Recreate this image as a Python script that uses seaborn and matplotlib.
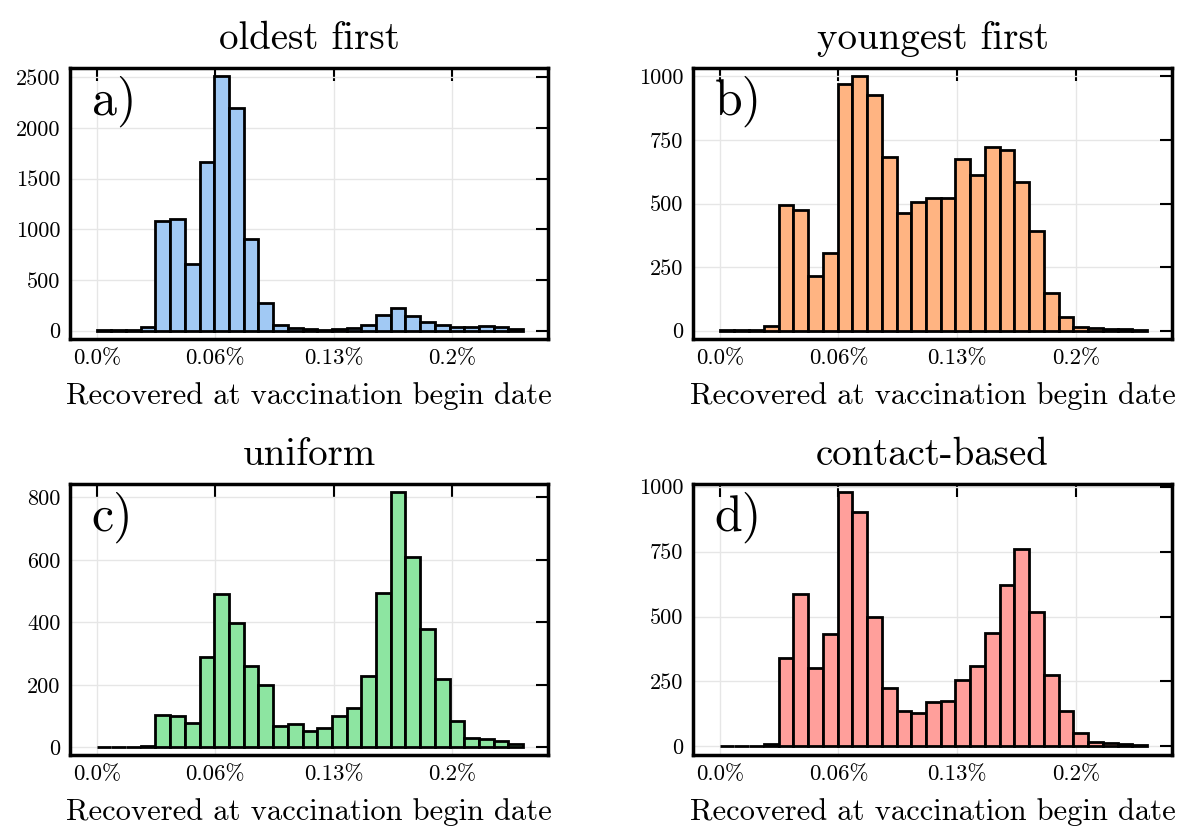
import numpy as np
import pandas as pd
import matplotlib
matplotlib.use("Agg")
import matplotlib.pyplot as plt
import seaborn as sns

# counts per bin (29 bins from 0% to ~0.24%)
oldest_first = [5, 5, 8, 40, 1085, 1105, 658, 1661, 2516, 2194, 901, 273, 56, 23,
                13, 10, 20, 23, 56, 155, 220, 141, 89, 56, 40, 40, 43, 36, 20]
youngest_first = [3, 3, 3, 17, 493, 476, 216, 307, 972, 1001, 927, 684, 463, 505,
                  520, 523, 676, 612, 723, 710, 583, 393, 148, 55, 13, 9, 6, 5, 4]
uniform = [2, 2, 2, 3, 103, 99, 78, 288, 492, 397, 261, 200, 67, 75,
           53, 61, 101, 126, 227, 494, 818, 610, 377, 217, 83, 30, 26, 20, 10]
contact_based = [2, 2, 2, 8, 339, 587, 300, 433, 981, 901, 497, 226, 137, 128,
                 172, 175, 254, 311, 436, 621, 760, 519, 276, 135, 50, 18, 15, 10, 5]

titles = ["oldest first", "youngest first", "uniform", "contact-based"]
panel_tags = ["a)", "b)", "c)", "d)"]
series = [oldest_first, youngest_first, uniform, contact_based]
colors = ["#a1c9f4", "#ffb482", "#8de5a1", "#ff9f9b"]

xtick_pos = [0.0, 0.2 / 3, 0.4 / 3, 0.2]
xtick_labels = ["0.0%", "0.06%", "0.13%", "0.2%"]
yticks = [[0, 500, 1000, 1500, 2000, 2500],
          [0, 250, 500, 750, 1000],
          [0, 200, 400, 600, 800],
          [0, 250, 500, 750, 1000]]
ylims = [(-82, 2592), (-33, 1033), (-25, 843), (-33, 1010)]

sns.set_style("white")
plt.rcParams['font.family'] = 'serif'
plt.rcParams['font.serif'] = ['cmr10']
plt.rcParams['mathtext.fontset'] = 'cm'
plt.rcParams['axes.formatter.use_mathtext'] = True
plt.rcParams['text.color'] = 'black'
plt.rcParams['axes.labelcolor'] = 'black'
plt.rcParams['xtick.color'] = 'black'
plt.rcParams['ytick.color'] = 'black'

edges = np.linspace(0, 0.24, 30)
centers = (edges[:-1] + edges[1:]) / 2

fig = plt.figure(figsize=(11.83, 8.35), dpi=100)
positions = [
    [70 / 1183, 1 - 339 / 835, 478 / 1183, 271 / 835],
    [693 / 1183, 1 - 339 / 835, 479 / 1183, 271 / 835],
    [70 / 1183, 1 - 755 / 835, 478 / 1183, 271 / 835],
    [693 / 1183, 1 - 755 / 835, 479 / 1183, 271 / 835],
]

for i in range(4):
    ax = fig.add_axes(positions[i])
    df = pd.DataFrame({"recovered": centers, "count": series[i]})
    sns.histplot(data=df, x="recovered", weights="count", bins=list(edges),
                 color=colors[i], edgecolor="black", linewidth=2, alpha=1, ax=ax)
    ax.set_xlim(-0.015, 0.254)
    ax.set_ylim(*ylims[i])
    ax.set_xticks(xtick_pos)
    ax.set_xticklabels(xtick_labels, fontsize=16.5)
    ax.set_yticks(yticks[i])
    ax.set_yticklabels([str(v) for v in yticks[i]], fontsize=16)
    ax.tick_params(direction="in", length=9, width=1.5, top=True, right=True, pad=7)
    ax.grid(True, color="#e6e6e6", linewidth=1)
    ax.set_axisbelow(True)
    for sp in ax.spines.values():
        sp.set_linewidth(2.5)
        sp.set_color("black")
    ax.set_ylabel("")
    ax.set_xlabel("Recovered at vaccination begin date", fontsize=22, labelpad=10)
    ax.set_title(titles[i], fontsize=28, pad=14)
    ax.text(0.045, 0.97, panel_tags[i], transform=ax.transAxes, fontsize=36,
            va="top", ha="left")

fig.savefig("out.png", dpi=100)
